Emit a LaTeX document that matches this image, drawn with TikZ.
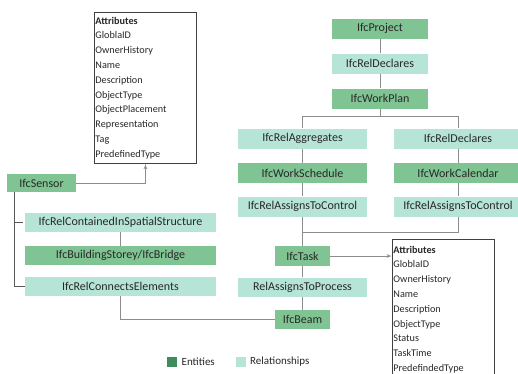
\documentclass[tikz,border=0pt]{standalone}
\usepackage{fontspec}
\setmainfont{Carlito}
\usepackage{tikz}
\usetikzlibrary{arrows}
\usepackage{xcolor}
\definecolor{entgreen}{RGB}{127,196,146}
\definecolor{relgreen}{RGB}{182,228,214}
\definecolor{legentity}{RGB}{62,140,90}
\definecolor{txtgray}{RGB}{40,40,40}
\definecolor{linegray}{RGB}{140,140,140}

\begin{document}
\begin{tikzpicture}[x=1pt,y=-1pt]

\tikzset{entity/.style = {shape=rectangle,fill=entgreen,text=txtgray,font=\fontsize{12}{13}\selectfont,inner sep=0pt,minimum height=20pt}}
\tikzset{relation/.style = {shape=rectangle,fill=relgreen,text=txtgray,font=\fontsize{12}{13}\selectfont,inner sep=0pt,minimum height=20pt}}
\tikzset{attrbox/.style = {shape=rectangle,draw=black!75,line width=0.9pt,anchor=north west,align=left,text=txtgray,font=\fontsize{10.2}{14.8}\selectfont,text width=100pt,inner xsep=1pt,inner ysep=1.5pt}}
\tikzset{edge/.style = {-,draw=linegray,line width=0.8pt,> = latex'}}
\tikzset{treeedge/.style = {-,draw=black!65,line width=1pt}}
\useasboundingbox (0,0) rectangle (518,373);
\fill[white] (0,0) rectangle (518,373);

\node[entity,minimum width=96pt] (project) at (380,28.5) {IfcProject};
\node[relation,minimum width=96pt] (declares1) at (380,63.5) {IfcRelDeclares};
\node[entity,minimum width=96pt] (workplan) at (380,98.5) {IfcWorkPlan};
\node[relation,minimum width=129pt] (aggregates) at (302.5,138.5) {IfcRelAggregates};
\node[relation,minimum width=129pt] (declares2) at (458,138.5) {IfcRelDeclares};
\node[entity,minimum width=129pt] (schedule) at (302.5,173) {IfcWorkSchedule};
\node[entity,minimum width=129pt] (calendar) at (458,173) {IfcWorkCalendar};
\node[relation,minimum width=129pt] (control1) at (302.5,206.5) {IfcRelAssignsToControl};
\node[relation,minimum width=129pt] (control2) at (458,206.5) {IfcRelAssignsToControl};
\node[entity,minimum width=55pt] (task) at (302.5,256) {IfcTask};
\node[relation,minimum width=129pt,minimum height=19pt] (process) at (302.5,287) {RelAssignsToProcess};
\node[entity,minimum width=55pt,minimum height=19pt] (beam) at (302.5,319.5) {IfcBeam};
\node[entity,minimum width=69pt,minimum height=18pt] (sensor) at (41.5,183) {IfcSensor};
\node[relation,minimum width=191pt,minimum height=19pt] (contained) at (120.5,222.5) {IfcRelContainedInSpatialStructure};
\node[entity,minimum width=191pt,minimum height=19pt] (storey) at (120.5,255.5) {IfcBuildingStorey/IfcBridge};
\node[relation,minimum width=191pt,minimum height=19pt] (connects) at (120.5,286.5) {IfcRelConnectsElements};

% attribute boxes
\node[attrbox,minimum height=151pt] (sensorattr) at (94,12) {\textbf{Attributes}\\GloblaID\\OwnerHistory\\Name\\Description\\ObjectType\\ObjectPlacement\\Representation\\Tag\\PredefinedType};
\node[attrbox,minimum height=140pt] (taskattr) at (392,239) {\textbf{Attributes}\\GloblaID\\OwnerHistory\\Name\\Description\\ObjectType\\Status\\TaskTime\\PredefindedType};

\coordinate (split) at (380,116);
\coordinate (join) at (302.5,232);
\coordinate (trunk) at (14,192);

%edges
\draw[edge] (project) to (declares1);
\draw[edge] (declares1) to (workplan);
\draw[edge] (workplan) to (split);
\draw[edge] (split) -| (aggregates.north);
\draw[edge] (split) -| (declares2.north);
\draw[edge] (aggregates) to (schedule);
\draw[edge] (schedule) to (control1);
\draw[edge] (declares2) to (calendar);
\draw[edge] (calendar) to (control2);
\draw[edge] (control1) to (task);
\draw[edge] (control2.south) |- (join);
\draw[edge] (task) to (process);
\draw[edge] (process) to (beam);
\draw[edge,->] (task.east) to (task.east -| taskattr.west);
\draw[edge,->] (sensor.east) -| (sensorattr.south);
\draw[edge] (contained) to (storey);
\draw[edge] (connects.south) |- (beam.west);
\draw[treeedge] (trunk) |- (connects.west);
\draw[treeedge] (trunk |- contained.west) to ([xshift=-2pt]contained.west);

% legend
\node[fill=legentity,minimum size=10pt,inner sep=0pt] (legent) at (172,362) {};
\node[anchor=west,text=txtgray,font=\fontsize{11}{12}\selectfont,inner sep=0pt] (legenttext) at (181.5,362) {Entities};
\node[fill=relgreen,minimum size=10pt,inner sep=0pt] (legrel) at (241,362) {};
\node[anchor=west,text=txtgray,font=\fontsize{11}{12}\selectfont,inner sep=0pt] (legreltext) at (250,362) {Relationships};
\end{tikzpicture}
\end{document}
